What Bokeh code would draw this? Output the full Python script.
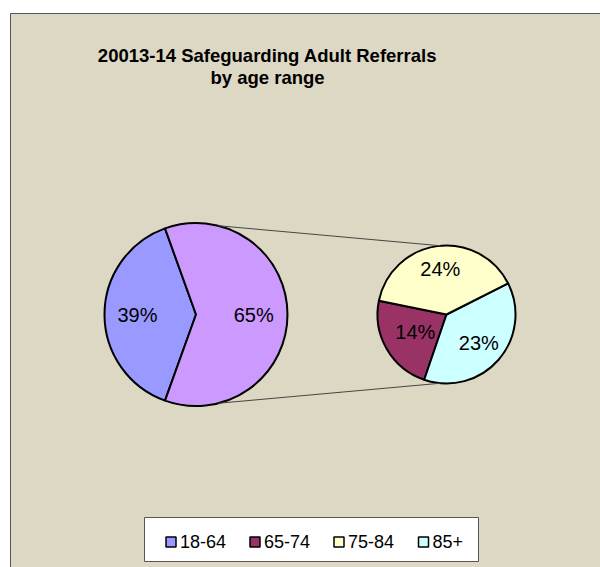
import numpy as np
from bokeh.plotting import figure
from bokeh.models import Range1d, ColumnDataSource
from bokeh.core.properties import value
from bokeh.embed import file_html
from bokeh.resources import INLINE

# ---- data ----
title_lines = ["20013-14 Safeguarding Adult Referrals", "by age range"]
categories = ["18-64", "65-74", "75-84", "85+"]
cat_colors = ["#9999FF", "#993366", "#FFFFCC", "#CCFFFF"]
other_color = "#CC99FF"
main_value = 39                 # 18-64 share
sub_values = [14, 24, 23]       # 65-74, 75-84, 85+
main_labels = ["39%", "65%"]
sub_labels = ["14%", "24%", "23%"]

FONT = "Liberation Sans"
W, H = 600, 567
def Y(py):
    return H - py

p = figure(width=W, height=H, x_range=Range1d(0, W), y_range=Range1d(0, H),
           output_backend="svg", toolbar_location=None, min_border=0)
p.axis.visible = False
p.grid.visible = False
p.outline_line_color = None
p.background_fill_color = "white"
p.border_fill_color = "white"

# chart area
p.quad(left=[10], right=[640], top=[Y(13)], bottom=[Y(620)],
       fill_color="#DDD8C3", line_color="#555555", line_width=1)

# title
p.text(x=[267, 267], y=[Y(55), Y(77)], text=title_lines,
       text_font=value(FONT), text_font_style="bold", text_font_size="18.5px",
       text_align="center", text_baseline="middle", text_color="#000000")

# ---- primary pie ----
cx1, cy1, r1 = 195.5, Y(314), 91.5
total = main_value + sum(sub_values)
main_span = 2 * np.pi * main_value / total
s0 = np.pi - main_span / 2
main_starts = [s0, s0 + main_span]
main_ends = [s0 + main_span, s0 + 2 * np.pi]
src1 = ColumnDataSource(dict(start=main_starts, end=main_ends,
                             color=[cat_colors[0], other_color]))
p.wedge(x=cx1, y=cy1, radius=r1, start_angle="start", end_angle="end",
        fill_color="color", line_color="black", line_width=2, source=src1)

# ---- secondary pie ----
cx2, cy2, r2 = 446, Y(314), 69
order = [0, 2, 1]   # anticlockwise: 65-74, 85+, 75-84
sub_total = sum(sub_values)
a = np.deg2rad(168.5)
sub_starts, sub_ends, sub_cols, sub_mid, sub_lab = [], [], [], [], []
for i in order:
    span = 2 * np.pi * sub_values[i] / sub_total
    sub_starts.append(a)
    sub_ends.append(a + span)
    sub_mid.append(a + span / 2)
    sub_cols.append(cat_colors[i + 1])
    sub_lab.append(sub_labels[i])
    a += span
src2 = ColumnDataSource(dict(start=sub_starts, end=sub_ends, color=sub_cols))
p.wedge(x=cx2, y=cy2, radius=r2, start_angle="start", end_angle="end",
        fill_color="color", line_color="black", line_width=2, source=src2)

# connector lines
t1, t2 = np.deg2rad(76), np.deg2rad(95)
for sgn in (1, -1):
    p.line(x=[cx1 + r1 * np.cos(t1), cx2 + r2 * np.cos(t2)],
           y=[cy1 + sgn * r1 * np.sin(t1), cy2 + sgn * r2 * np.sin(t2)],
           line_color="#444444", line_width=1)

# labels
main_mid = [np.pi, 0.0]
main_fac = [0.64, 0.63]
lx = [cx1 + f * r1 * np.cos(m) for f, m in zip(main_fac, main_mid)]
ly = [cy1 + f * r1 * np.sin(m) for f, m in zip(main_fac, main_mid)]
sub_fac = [0.52, 0.62, 0.67]
lx += [cx2 + f * r2 * np.cos(m) for f, m in zip(sub_fac, sub_mid)]
ly += [cy2 + f * r2 * np.sin(m) for f, m in zip(sub_fac, sub_mid)]
p.text(x=lx, y=ly, text=main_labels + sub_lab,
       text_font=value(FONT), text_font_size="20px",
       text_align="center", text_baseline="middle", text_color="#000000")

# ---- legend ----
p.quad(left=[144], right=[478], top=[Y(517)], bottom=[Y(561)],
       fill_color="white", line_color="#555555", line_width=1)
sq_x = [170.5, 254.5, 338.5, 423]
p.rect(x=sq_x, y=[Y(541.5)] * 4, width=10, height=10,
       width_units="screen", height_units="screen",
       fill_color=cat_colors, line_color="black", line_width=1.5)
p.text(x=[x + 9 for x in sq_x], y=[Y(541)] * 4, text=categories,
       text_font=value(FONT), text_font_size="18px",
       text_align="left", text_baseline="middle", text_color="#000000")

open("out.html", "w").write(file_html(p, INLINE))
